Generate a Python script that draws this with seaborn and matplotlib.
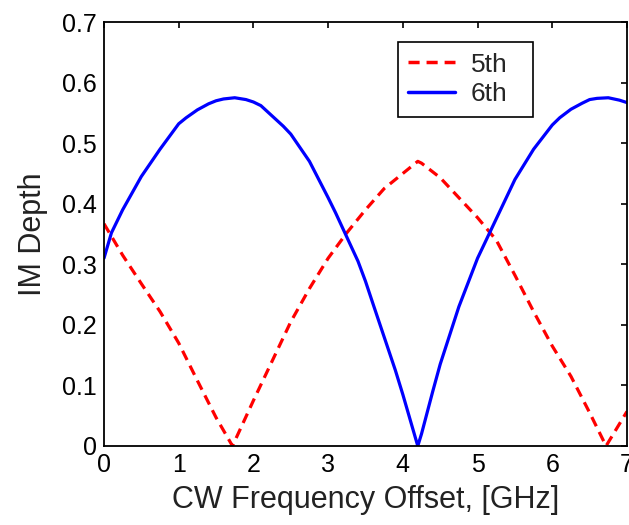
import numpy as np
import pandas as pd
import matplotlib
matplotlib.use("Agg")
import matplotlib.pyplot as plt
import seaborn as sns

# 5th-order IM depth (red dashed)
x5 = [0.0, 0.25, 0.5, 0.75, 1.0, 1.25, 1.5, 1.72, 1.75, 2.0, 2.25, 2.5, 2.75, 3.0,
      3.25, 3.5, 3.75, 4.0, 4.2, 4.25, 4.5, 4.75, 5.0, 5.25, 5.5, 5.75, 6.0,
      6.25, 6.5, 6.72, 7.0]
y5 = [0.367, 0.315, 0.268, 0.222, 0.170, 0.108, 0.047, 0.0, 0.008, 0.075, 0.140,
      0.205, 0.260, 0.310, 0.352, 0.390, 0.425, 0.450, 0.470, 0.467, 0.443, 0.410,
      0.377, 0.340, 0.282, 0.222, 0.165, 0.115, 0.055, 0.0, 0.057]

# 6th-order IM depth (blue solid)
x6 = [0.0, 0.1, 0.25, 0.5, 0.75, 1.0, 1.1, 1.25, 1.4, 1.5, 1.6, 1.75, 1.9, 2.0,
      2.1, 2.25, 2.4, 2.5, 2.75, 3.0, 3.1, 3.25, 3.4, 3.5, 3.6, 3.75, 3.9, 4.0,
      4.2, 4.25, 4.4, 4.5, 4.75, 5.0, 5.25, 5.5, 5.75, 6.0, 6.1, 6.25, 6.4,
      6.5, 6.6, 6.75, 6.9, 7.0]
y6 = [0.310, 0.352, 0.390, 0.445, 0.490, 0.532, 0.542, 0.555, 0.565, 0.570,
      0.573, 0.575, 0.572, 0.568, 0.562, 0.545, 0.528, 0.515, 0.470, 0.410,
      0.385, 0.345, 0.305, 0.272, 0.235, 0.180, 0.125, 0.085, 0.0, 0.020,
      0.090, 0.135, 0.230, 0.310, 0.375, 0.440, 0.490, 0.530, 0.542, 0.556,
      0.566, 0.572, 0.574, 0.575, 0.571, 0.567]

series_names = ["5th", "6th"]
xticks = [0, 1, 2, 3, 4, 5, 6, 7]
yticks = [0, 0.1, 0.2, 0.3, 0.4, 0.5, 0.6, 0.7]
ytick_labels = ["0", "0.1", "0.2", "0.3", "0.4", "0.5", "0.6", "0.7"]

df = pd.concat([
    pd.DataFrame({"x": x5, "y": y5, "s": series_names[0]}),
    pd.DataFrame({"x": x6, "y": y6, "s": series_names[1]}),
], ignore_index=True)

sns.set_theme(style="white")
plt.rcParams["font.family"] = ["Liberation Sans", "DejaVu Sans"]

fig = plt.figure(figsize=(6.29, 5.25), dpi=100)
ax = fig.add_axes([0.1653, 0.1505, 0.8315, 0.8075])

sns.lineplot(data=df, x="x", y="y", hue="s", style="s",
             palette={"5th": "#ff0000", "6th": "#0000ff"},
             dashes={"5th": (3.2, 2.0), "6th": ""},
             linewidth=2.3, ax=ax, sort=False)

ax.set_xlim(0, 7)
ax.set_ylim(0, 0.7)
ax.set_xticks(xticks)
ax.set_xticklabels([str(t) for t in xticks])
ax.set_yticks(yticks)
ax.set_yticklabels(ytick_labels)
ax.tick_params(direction="in", length=4, width=1.2, top=True, right=True,
               labelsize=18, colors="black", pad=5)
for sp in ax.spines.values():
    sp.set_visible(True)
    sp.set_color("black")
    sp.set_linewidth(1.3)

ax.set_xlabel("CW Frequency Offset, [GHz]", fontsize=22, color="#222222", labelpad=6)
ax.set_ylabel("IM Depth", fontsize=22, color="#222222", labelpad=10)

leg = ax.legend(loc="upper left", bbox_to_anchor=(0.562, 0.5, 0.258, 0.453),
                mode="expand", fontsize=19,
                frameon=True, fancybox=False, edgecolor="black", framealpha=1,
                handlelength=1.75, borderpad=0.4, labelspacing=0.22,
                handletextpad=0.6, borderaxespad=0)
leg.get_frame().set_linewidth(1.2)
for h in leg.get_lines():
    h.set_linewidth(2.5)

fig.savefig("out.png", dpi=100, facecolor="white")
